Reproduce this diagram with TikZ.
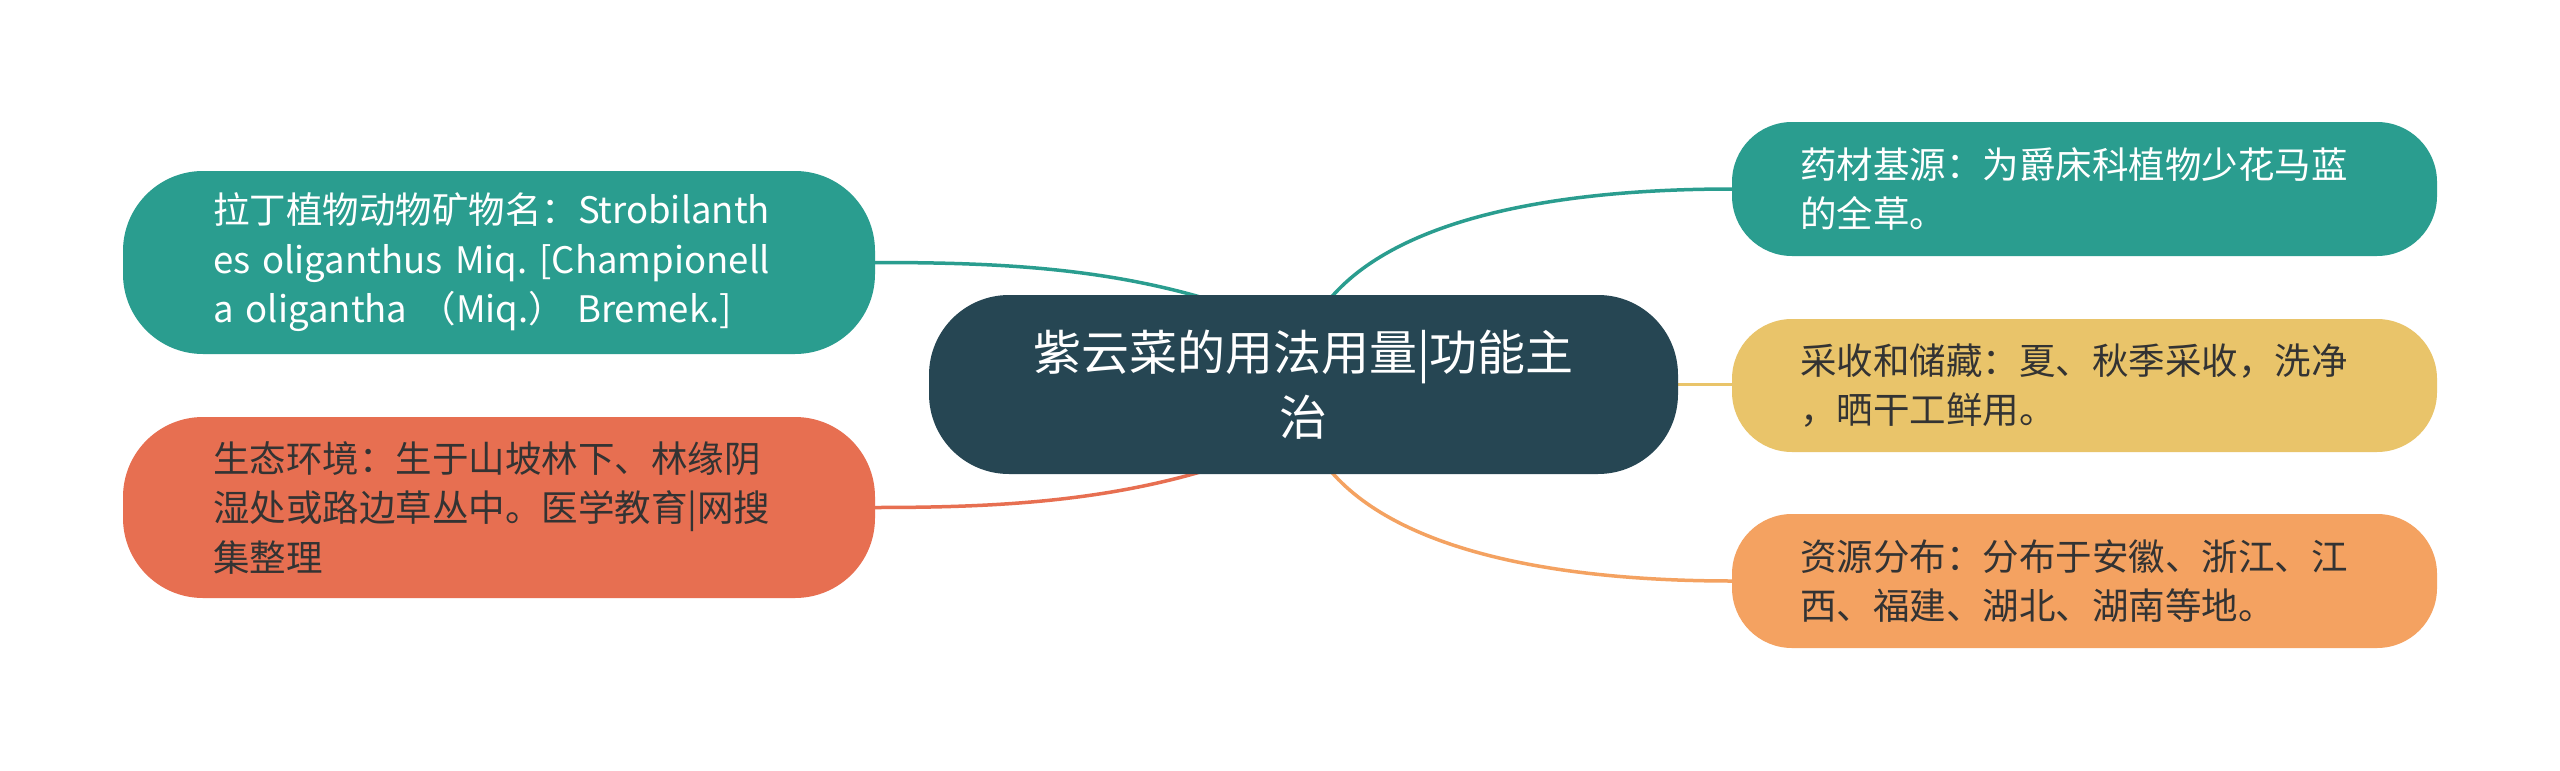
\documentclass[tikz,border=0pt]{standalone}
\usepackage{fontspec}
\setmainfont{Noto Sans CJK SC}
\usetikzlibrary{calc}
\pgfdeclarelayer{bg}
\pgfsetlayers{bg,main}
\definecolor{cteal}{HTML}{2A9D8F}
\definecolor{cdark}{HTML}{264653}
\definecolor{cyellow}{HTML}{E9C46A}
\definecolor{corange}{HTML}{F4A261}
\definecolor{ccoral}{HTML}{E76F51}
\definecolor{ctext}{HTML}{333333}
\frenchspacing
\begin{document}
\begin{tikzpicture}[x=1pt,y=-1pt,
  box/.style={rectangle, outer sep=0pt, inner ysep=0pt, align=left,
    font=\fontsize{36.5}{49.5}\selectfont},
  leftbox/.style={box, rounded corners=80pt, minimum width=752pt, inner xsep=90pt, text width=572pt},
  rightbox/.style={box, rounded corners=60pt, minimum width=705pt, inner xsep=68pt, text width=569pt},
  link/.style={line width=3.5pt}]
\useasboundingbox (0,0) rectangle (2560,771);

\node[box, fill=cdark, text=white, rounded corners=80pt, minimum width=749pt,
  minimum height=179pt, inner xsep=20pt, text width=709pt, align=center,
  font=\fontsize{48}{65}\selectfont] (root) at (1303.5,384.5)
  {紫云菜的用法用量|功能主\\治};

\node[leftbox, fill=cteal, text=white, minimum height=183pt] (lt) at (499,262.5)
  {拉丁植物动物矿物名：Strobilanth\\es oliganthus Miq. [Championell\\a oligantha （Miq.） Bremek.]};

\node[leftbox, fill=ccoral, text=ctext, minimum height=181pt] (lb) at (499,507.5)
  {生态环境：生于山坡林下、林缘阴\\湿处或路边草丛中。医学教育|网搜\\集整理};

\node[rightbox, fill=cteal, text=white, minimum height=134pt] (rt) at (2084.5,189)
  {药材基源：为爵床科植物少花马蓝\\的全草。};

\node[rightbox, fill=cyellow, text=ctext, minimum height=133pt] (rm) at (2084.5,385.5)
  {采收和储藏：夏、秋季采收，洗净\\，晒干工鲜用。};

\node[rightbox, fill=corange, text=ctext, minimum height=134pt] (rb) at (2084.5,581)
  {资源分布：分布于安徽、浙江、江\\西、福建、湖北、湖南等地。};

\begin{pgfonlayer}{bg}
  \fill[white] (0,0) rectangle (2560,771);
  \draw[link, cteal] (lt.east) .. controls +(125,0) and +(-120,-42) .. ($(root.center)+(-64,-75)$);
  \draw[link, ccoral] (lb.east) .. controls +(125,0) and +(-120,42) .. ($(root.center)+(-64,75)$);
  \draw[link, cteal] ($(root.center)+(21.5,-79.5)$) .. controls +(65,-85) and +(-182,0) .. (rt.west);
  \draw[link, corange] ($(root.center)+(21.5,79.5)$) .. controls +(65,85) and +(-182,0) .. (rb.west);
  \draw[link, cyellow] (root.east) -- (root.east -| rm.west);
\end{pgfonlayer}
\end{tikzpicture}
\end{document}
